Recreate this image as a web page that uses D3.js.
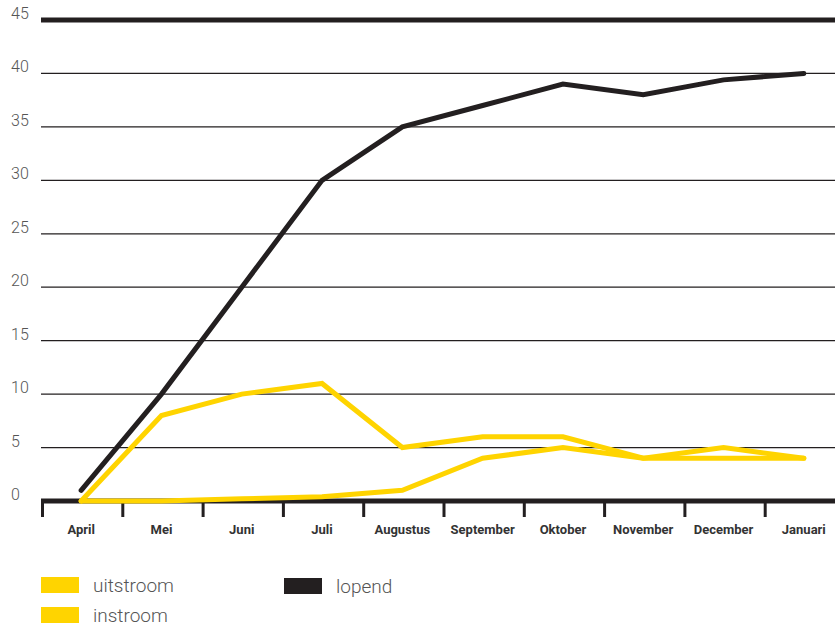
<!DOCTYPE html>
<html><head><meta charset="utf-8">
<script src="https://cdn.jsdelivr.net/npm/d3@7"></script>
<style>body{margin:0;background:#fff}svg{display:block}</style>
</head><body>
<svg id="c" width="835" height="626"></svg>
<script>
const months = ["April","Mei","Juni","Juli","Augustus","September","Oktober","November","December","Januari"];
const lopend = [1,10,20,30,35,37,39,38,39.4,40];
const uitstroom = [0,8,10,11,5,6,6,4,5,4];
const instroom = [0,0,0.2,0.4,1,4,5,4,4,4];
const yTicks = [0,5,10,15,20,25,30,35,40,45];

const svg = d3.select("#c");
const x = d3.scaleBand().domain(months).range([41,844]);
const y = d3.scaleLinear().domain([0,45]).range([501,20]);
const black = "#231f20", yellow = "#ffd400";

// gridlines
svg.append("g").selectAll("line").data(yTicks.filter(d=>d>0)).join("line")
  .attr("x1",41).attr("x2",835).attr("y1",d=>y(d)).attr("y2",d=>y(d))
  .attr("stroke",black).attr("stroke-width",d=>d===45?5:1.2);
// y labels
svg.append("g").selectAll("text").data(yTicks).join("text")
  .attr("x",11).attr("y",d=>y(d)-1).text(d=>d)
  .attr("font-family","Roboto, 'Open Sans', sans-serif").attr("font-size",16).attr("font-weight",300)
  .attr("fill","#555");

// x axis
const xa = svg.append("g").attr("transform","translate(0,501)");
xa.append("line").attr("x1",41).attr("x2",835).attr("stroke",black).attr("stroke-width",5);
xa.selectAll("line.t").data(months).join("line").attr("class","t")
  .attr("x1",d=>x(d)+1.5).attr("x2",d=>x(d)+1.5).attr("y1",0).attr("y2",16)
  .attr("stroke",black).attr("stroke-width",3);
xa.selectAll("text").data(months).join("text")
  .attr("x",d=>x(d)+x.bandwidth()/2).attr("y",33).attr("text-anchor","middle").text(d=>d)
  .attr("font-family","Roboto, 'Open Sans', sans-serif").attr("font-size",13).attr("font-weight",700)
  .attr("fill","#333");

const line = d3.line().x((d,i)=>x(months[i])+x.bandwidth()/2).y(d=>y(d));
[[instroom,yellow],[uitstroom,yellow],[lopend,black]].forEach(([s,c])=>{
  svg.append("path").datum(s).attr("d",line).attr("fill","none")
    .attr("stroke",c).attr("stroke-width",5).attr("stroke-linecap","round").attr("stroke-linejoin","miter");
});

// legend
const leg = [{n:"uitstroom",c:yellow,x:41,y:577},{n:"instroom",c:yellow,x:41,y:607},{n:"lopend",c:black,x:284,y:578}];
const lg = svg.append("g");
lg.selectAll("rect").data(leg).join("rect").attr("x",d=>d.x).attr("y",d=>d.y).attr("width",38).attr("height",16).attr("fill",d=>d.c);
lg.selectAll("text").data(leg).join("text").attr("x",d=>d.x+52).attr("y",d=>d.y+15).text(d=>d.n)
  .attr("font-family","Roboto, 'Open Sans', sans-serif").attr("font-size",19).attr("font-weight",300).attr("fill","#555");
</script>
</body></html>
